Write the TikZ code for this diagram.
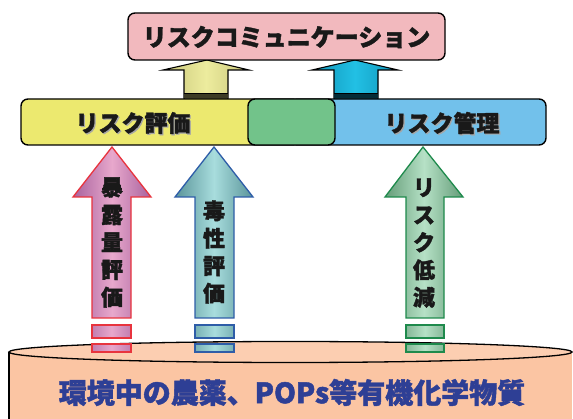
\documentclass[tikz,border=0pt]{standalone}
\usepackage{fontspec}
\newfontfamily\jp{Noto Sans CJK JP}[BoldFeatures={FakeBold=1.6}]
\definecolor{topPink}{HTML}{F2B9BE}
\definecolor{barYellow}{HTML}{ECE96F}
\definecolor{barGreen}{HTML}{72C38A}
\definecolor{barBlue}{HTML}{72C1EB}
\definecolor{cylFill}{HTML}{FBC5A3}
\definecolor{cylText}{HTML}{2E3F95}
\definecolor{pinkEdge}{HTML}{A8629E}
\definecolor{pinkMid}{HTML}{E8A8CC}
\definecolor{pinkLine}{HTML}{E8343E}
\definecolor{tealEdge}{HTML}{5A9499}
\definecolor{tealMid}{HTML}{A8DDDD}
\definecolor{tealLine}{HTML}{2E5DA8}
\definecolor{greenEdge}{HTML}{649C78}
\definecolor{greenMid}{HTML}{B6E1C6}
\definecolor{greenLine}{HTML}{1E8A4C}
\definecolor{ylwArrow}{HTML}{EDEC9E}
\definecolor{ylwEdge}{HTML}{C8C67A}
\definecolor{cyanArrow}{HTML}{22C0E4}
\definecolor{cyanEdge}{HTML}{1094B8}
\tikzset{
  boxline/.style={draw=black, line width=1.4pt, rounded corners=7pt},
  jptext/.style={font=\jp\bfseries\fontsize{23}{27}\selectfont, text=black!90, inner sep=0pt},
  vtext/.style={font=\jp\bfseries\fontsize{22}{27.5}\selectfont, text=black!90, inner sep=0pt, align=center},
  bigarrow/.style={line width=1.3pt, line join=miter},
  smallarrow/.style={draw=black, line width=1.1pt, line join=miter},
}
\begin{document}
\begin{tikzpicture}[x=1pt,y=-1pt]
\useasboundingbox (0,0) rectangle (573,419);
\fill[white] (0,0) rectangle (573,419);

% cylinder
\fill[cylFill] (9,352) rectangle (572,425);
\fill[cylFill!85!white] (290.5,352) ellipse [x radius=281.5, y radius=10.5];
\draw[black, line width=1.3pt] (290.5,352) ellipse [x radius=281.5, y radius=10.5];
\draw[black, line width=1.3pt] (9,352) -- (9,425);
\node[font=\jp\bfseries\fontsize{28}{30}\selectfont, text=cylText, inner sep=0pt] (base) at (292,392.5) {環境中の農薬、POPs等有機化学物質};

% small arrows to top box
\path[smallarrow, left color=ylwEdge, right color=ylwEdge, middle color=ylwArrow]
  (207,60) -- (249,70) -- (228,70) -- (228,99) -- (184,99) -- (184,70) -- (163,70) -- cycle;
\fill[black!70!ylwEdge] (184,93) rectangle (228,98);
\draw[black, line width=0.8pt] (184,93) -- (228,93);
\path[smallarrow, left color=cyanEdge, right color=cyanEdge, middle color=cyanArrow]
  (355,60) -- (398,70) -- (378,70) -- (378,99) -- (334,99) -- (334,70) -- (312,70) -- cycle;
\fill[black!70!cyanEdge] (334,93) rectangle (378,98);
\draw[black, line width=0.8pt] (334,93) -- (378,93);

% top box
\node[boxline, fill=topPink, minimum width=317pt, minimum height=47pt, inner sep=0pt] (comm) at (286.5,36.5) {};
\node[jptext, font=\jp\bfseries\fontsize{24}{27}\selectfont] (commtext) at (286.5,37) {リスクコミュニケーション};

% bar
\draw[boxline, fill=barYellow] (21,99) rectangle (300,145);
\draw[boxline, fill=barBlue] (290,99) rectangle (546,145);
\draw[boxline, fill=barGreen] (248,99) rectangle (335,145);
\node[jptext, text=black!35] at (134.2,124.2) {リスク評価};
\node[jptext] (eval) at (133,123) {リスク評価};
\node[jptext, text=black!35] at (443.2,124.2) {リスク管理};
\node[jptext] (mgmt) at (442,123) {リスク管理};

% big arrows
\path[bigarrow, draw=pinkLine, left color=pinkEdge, right color=pinkEdge, middle color=pinkMid]
  (112,147) -- (151,197) -- (131,197) -- (131,318) -- (92,318) -- (92,197) -- (73,197) -- cycle;
\path[bigarrow, draw=tealLine, left color=tealEdge, right color=tealEdge, middle color=tealMid]
  (214,147) -- (253,197) -- (234,197) -- (234,318) -- (195,318) -- (195,197) -- (175,197) -- cycle;
\path[bigarrow, draw=greenLine, left color=greenEdge, right color=greenEdge, middle color=greenMid]
  (423,147) -- (463,197) -- (444,197) -- (444,318) -- (406,318) -- (406,197) -- (385,197) -- cycle;

\node[vtext] (expo) at (112,242.5) {暴\\露\\量\\評\\価};
\node[vtext] (tox) at (214,252) {毒\\性\\評\\価};
\node[vtext] (red) at (424,243) {リ\\ス\\ク\\低\\減};

% dashes below arrows
\foreach \xa/\xb/\ln/\mc/\ec in {92/131/pinkLine/pinkMid/pinkEdge, 195/234/tealLine/tealMid/tealEdge, 406/444/greenLine/greenMid/greenEdge}{
  \path[draw=\ln, line width=1.2pt, left color=\ec!60!\mc, right color=\ec!60!\mc, middle color=\mc] (\xa,325) rectangle (\xb,338);
  \path[draw=\ln, line width=1.2pt, left color=\ec!60!\mc, right color=\ec!60!\mc, middle color=\mc] (\xa,344) rectangle (\xb,352);
}
\end{tikzpicture}
\end{document}
